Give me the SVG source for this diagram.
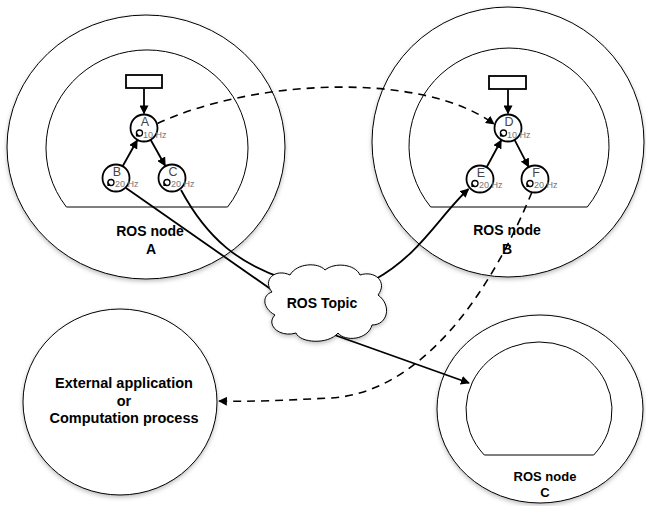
<svg xmlns="http://www.w3.org/2000/svg" xmlns:xlink="http://www.w3.org/1999/xlink" width="646" height="506" viewBox="0 0 646 506">
  <defs>
    <style>
      .outer { fill: #ffffff; stroke: #000; stroke-width: 1; filter: url(#shadow); }
      .inner { fill: #ffffff; stroke: #000; stroke-width: 1; }
      .sub { fill: #ffffff; stroke: #000; stroke-width: 1.8; }
      .box { fill: #ffffff; stroke: #000; stroke-width: 1.8; }
      .lbl { font-family: "Liberation Sans", Arial, sans-serif; font-weight: bold; font-size: 14px; fill: #000; text-anchor: middle; }
      .lblc { font-family: "Liberation Sans", Arial, sans-serif; font-weight: bold; font-size: 13px; fill: #000; text-anchor: middle; }
      .ext { font-family: "Liberation Sans", Arial, sans-serif; font-weight: bold; font-size: 14.5px; fill: #000; text-anchor: middle; }
      .letter { font-family: "Liberation Sans", Arial, sans-serif; font-size: 12.5px; fill: #444; text-anchor: middle; }
      .hz { font-family: "Liberation Sans", Arial, sans-serif; font-size: 9px; fill: #777; }
      .solid { fill: none; stroke: #000; stroke-width: 1.8; }
      .dash { fill: none; stroke: #000; stroke-width: 1.6; stroke-dasharray: 8 6; }
    </style>
    <filter id="shadow" x="-10%" y="-10%" width="120%" height="125%">
      <feDropShadow dx="0" dy="2" stdDeviation="2" flood-color="#000" flood-opacity="0.25"/>
    </filter>
    <marker id="arr" viewBox="0 0 10 10" refX="9" refY="5" markerWidth="5" markerHeight="5" orient="auto" markerUnits="strokeWidth">
      <path d="M0,0 L10,5 L0,10 Z" fill="#000"/>
    </marker>
    <marker id="arrd" viewBox="0 0 10 10" refX="9" refY="5" markerWidth="5.5" markerHeight="5.5" orient="auto" markerUnits="strokeWidth">
      <path d="M0,0 L10,5 L0,10 Z" fill="#000"/>
    </marker>
    <g id="icon">
      <circle cx="0" cy="0" r="3" fill="#fff" stroke="#000" stroke-width="1.3"/>
      <path d="M-3.6,-1.2 L0.6,3.6 L-3.6,3.6 Z" fill="#000"/>
    </g>
  </defs>

  <!-- ROS node A -->
  <g id="ros-node-a">
    <ellipse class="outer" cx="146" cy="147" rx="139" ry="132"/>
    <path class="inner" d="M66.4,207 A101,98 0 1 1 227.6,207 Z"/>
    <rect class="box" x="126" y="75" width="36" height="13"/>
    <text class="lbl" x="150" y="236">ROS node</text>
    <text class="lbl" x="151" y="254">A</text>
  </g>
  <g id="sub-a">
    <circle class="sub" cx="144" cy="128" r="13.5"/>
    <text class="letter" x="145" y="126">A</text>
    <use xlink:href="#icon" x="139.5" y="133"/>
    <text class="hz" x="143" y="137.5">10 Hz</text>
  </g>
  <g id="sub-b">
    <circle class="sub" cx="116" cy="178" r="13.5"/>
    <text class="letter" x="117" y="176">B</text>
    <use xlink:href="#icon" x="111" y="182.5"/>
    <text class="hz" x="115" y="187">20 Hz</text>
  </g>
  <g id="sub-c">
    <circle class="sub" cx="172" cy="178" r="13.5"/>
    <text class="letter" x="173" y="176">C</text>
    <use xlink:href="#icon" x="167" y="182.5"/>
    <text class="hz" x="171" y="187">20 Hz</text>
  </g>

  <!-- ROS node B -->
  <g id="ros-node-b">
    <ellipse class="outer" cx="508" cy="142" rx="136" ry="135"/>
    <path class="inner" d="M430.7,207 A100,98 0 1 1 587.3,207 Z"/>
    <rect class="box" x="489" y="76" width="37" height="13"/>
    <text class="lbl" x="507" y="235">ROS node</text>
    <text class="lbl" x="507" y="254">B</text>
  </g>
  <g id="sub-d">
    <circle class="sub" cx="508" cy="128" r="13.5"/>
    <text class="letter" x="509" y="126">D</text>
    <use xlink:href="#icon" x="503.5" y="133"/>
    <text class="hz" x="507" y="137.5">10 Hz</text>
  </g>
  <g id="sub-e">
    <circle class="sub" cx="480" cy="179" r="13.5"/>
    <text class="letter" x="481" y="177">E</text>
    <use xlink:href="#icon" x="475" y="183.5"/>
    <text class="hz" x="479" y="188">20 Hz</text>
  </g>
  <g id="sub-f">
    <circle class="sub" cx="535" cy="179" r="13.5"/>
    <text class="letter" x="536" y="177">F</text>
    <use xlink:href="#icon" x="530" y="183.5"/>
    <text class="hz" x="534" y="188">20 Hz</text>
  </g>

  <!-- ROS node C -->
  <g id="ros-node-c">
    <ellipse class="outer" cx="540" cy="409" rx="103" ry="94"/>
    <path class="inner" d="M484.3,455 A73,68 0 1 1 593.7,455 Z"/>
    <text class="lblc" x="545" y="481">ROS node</text>
    <text class="lblc" x="545" y="497">C</text>
  </g>

  <!-- External application -->
  <g id="external-app">
    <ellipse class="outer" cx="120" cy="402" rx="97" ry="93"/>
    <text class="ext" x="124" y="388">External application</text>
    <text class="ext" x="124" y="406">or</text>
    <text class="ext" x="124" y="423">Computation process</text>
  </g>

  <!-- Connectors -->
  <g id="connectors">
    <line class="solid" x1="144" y1="88.5" x2="144" y2="113.5" marker-end="url(#arr)"/>
    <line class="solid" x1="122.6" y1="166.2" x2="137.2" y2="140.2" marker-end="url(#arr)"/>
    <line class="solid" x1="150.6" y1="139.8" x2="165.2" y2="165.8" marker-end="url(#arr)"/>
    <line class="solid" x1="508" y1="89.5" x2="508" y2="113.5" marker-end="url(#arr)"/>
    <line class="solid" x1="486.6" y1="167.2" x2="501.2" y2="140.2" marker-end="url(#arr)"/>
    <line class="solid" x1="514.6" y1="139.8" x2="528.6" y2="166.8" marker-end="url(#arr)"/>
    <path class="dash" d="M157.5,123.5 C250,80 420,70 494,124" marker-end="url(#arrd)"/>
    <path class="solid" d="M126,188 L272,290"/>
    <path class="solid" d="M181,190 C208,240 240,264 285,279"/>
    <path class="solid" d="M374,280 C420,255 440,215 468.5,189" marker-end="url(#arr)"/>
    <path class="solid" d="M326,332 L469,383" marker-end="url(#arr)"/>
    <path class="dash" d="M532,192 C475,330 400,395 330,398 C290,400 250,402 219,401" marker-end="url(#arrd)"/>
  </g>

  <!-- ROS Topic cloud -->
  <g id="ros-topic">
    <path fill="#fff" stroke="#000" stroke-width="1" filter="url(#shadow)" d="M272,292 C262,280 275,268 290,275 C297,263 318,262 325,270 C335,262 355,264 360,275 C375,270 388,282 378,295 C392,305 388,325 372,325 C368,340 345,342 338,333 C328,345 300,343 296,333 C280,338 265,325 275,315 C262,308 262,295 272,292 Z"/>
    <text class="lbl" x="322" y="308">ROS Topic</text>
  </g>
</svg>
